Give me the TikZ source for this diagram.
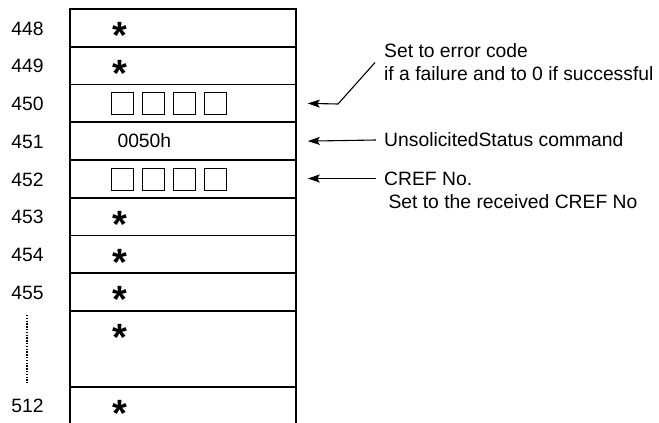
\documentclass[tikz,border=0pt]{standalone}
\usepackage{fontspec}
\setmainfont{Liberation Sans}
\usetikzlibrary{arrows.meta}

\begin{document}
\begin{tikzpicture}[x=1pt,y=-1pt,
  every node/.style={font=\fontsize{19.3}{23}\selectfont},
  memrow/.style={draw,line width=1.6pt,minimum width=226pt,inner sep=0pt},
  star/.style={font=\fontsize{38}{38}\selectfont\bfseries,anchor=base,inner sep=0pt},
  cell/.style={draw,line width=0.8pt,minimum size=22pt,inner sep=0pt},
  ptr/.style={line width=1.1pt,{Stealth[length=12pt,width=8pt,inset=2.5pt]}-}]
  \clip (0,0) rectangle (659,423);

  \node[memrow,minimum height=37.75pt] (r448) at (183,27.875) {};
  \node[memrow,minimum height=37.75pt] (r449) at (183,65.625) {};
  \node[memrow,minimum height=37.75pt] (r450) at (183,103.375) {};
  \node[memrow,minimum height=37.75pt] (r451) at (183,141.125) {};
  \node[memrow,minimum height=37.75pt] (r452) at (183,178.875) {};
  \node[memrow,minimum height=37.75pt] (r453) at (183,216.625) {};
  \node[memrow,minimum height=37.75pt] (r454) at (183,254.375) {};
  \node[memrow,minimum height=37.75pt] (r455) at (183,292.125) {};
  \node[memrow,minimum height=76pt] (rgap) at (183,349) {};
  \node[memrow,minimum height=56pt] (r512) at (183,415) {};

  \node (a448) at (27.5,28.5) {448};
  \node (a449) at (27.5,66.2) {449};
  \node (a450) at (27.5,104) {450};
  \node (a451) at (27.5,141.7) {451};
  \node (a452) at (27.5,179.5) {452};
  \node (a453) at (27.5,217.2) {453};
  \node (a454) at (27.5,255) {454};
  \node (a455) at (27.5,292.7) {455};
  \node (a512) at (27.5,406) {512};
  \draw[line width=1.3pt,dash pattern=on 1.4pt off 1.4pt] (27,315) -- (27,383);

  \node[star] (s448) at (120,48.5) {*};
  \node[star] (s449) at (120,86.25) {*};
  \node[star] (s453) at (120,237.25) {*};
  \node[star] (s454) at (120,275) {*};
  \node[star] (s455) at (120,312.75) {*};
  \node[star] (sgap) at (120,350.5) {*};
  \node[star] (s512) at (120,426.5) {*};

  \foreach \k in {0,1,2,3} {
    \node[cell] (c450\k) at (122+31*\k,103.6) {};
    \node[cell] (c452\k) at (122+31*\k,178.9) {};
  }
  \node[anchor=west] (v451) at (114,141.1) {0050h};

  \node[anchor=west,align=left,inner xsep=9pt] (err) at (375,62.5)
    {Set to error code\\ if a failure and to 0 if successful};
  \node[anchor=west,inner xsep=8pt] (cmd) at (376,140) {UnsolicitedStatus command};
  \node[anchor=west,inner xsep=8pt] (cref) at (376,178.5) {CREF No.};
  \node[anchor=west] (crefset) at (385,201.5) {Set to the received CREF No};

  \coordinate (errbend) at (338,104);
  \draw[ptr] ([xshift=11pt]r450.east) -- (errbend) -- (err.west);
  \draw[ptr] ([xshift=11pt]r451.east) -- (cmd.west);
  \draw[ptr] ([xshift=11pt]r452.east |- cref.west) -- (cref.west);
\end{tikzpicture}
\end{document}
